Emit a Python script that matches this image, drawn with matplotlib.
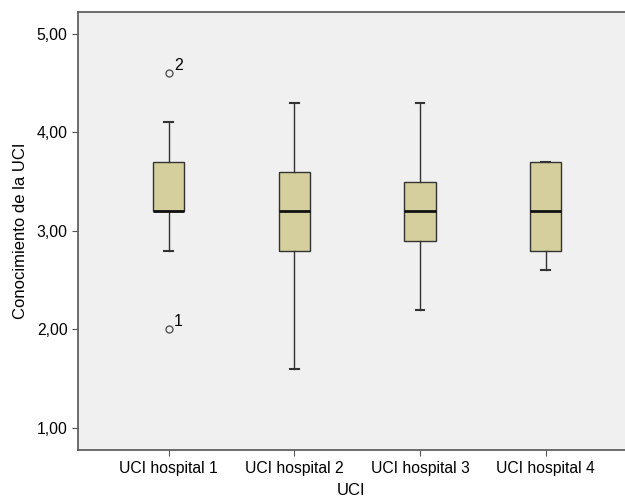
import matplotlib
matplotlib.use("Agg")
import matplotlib.pyplot as plt
from matplotlib.ticker import FuncFormatter

plt.rcParams['font.family'] = ['Liberation Sans', 'DejaVu Sans']

categories = ["UCI hospital 1", "UCI hospital 2", "UCI hospital 3", "UCI hospital 4"]
whislo = [2.8, 1.6, 2.2, 2.6]
q1 = [3.2, 2.8, 2.9, 2.8]
med = [3.2, 3.2, 3.2, 3.2]
q3 = [3.7, 3.6, 3.5, 3.7]
whishi = [4.1, 4.3, 4.3, 3.7]
outliers = [[4.6, 2.0], [], [], []]
outlier_labels = [["2", "1"], [], [], []]

stats = []
for i, c in enumerate(categories):
    stats.append(dict(label=c, whislo=whislo[i], q1=q1[i], med=med[i],
                      q3=q3[i], whishi=whishi[i], fliers=outliers[i]))

fig = plt.figure(figsize=(6.25, 5), dpi=100)
ax = fig.add_axes([0.1248, 0.1, 0.8752, 0.876])
ax.set_facecolor('#F0F0F0')
fig.patch.set_facecolor('white')

positions = [1, 2, 3, 4]
ax.bxp(stats, positions=positions, widths=0.25, patch_artist=True,
       capwidths=0.07,
       boxprops=dict(facecolor='#D4CF9C', edgecolor='#333333', linewidth=1.0),
       medianprops=dict(color='#111111', linewidth=2.0),
       whiskerprops=dict(color='#333333', linewidth=1.0),
       capprops=dict(color='#333333', linewidth=1.5),
       flierprops=dict(marker='o', markersize=5, markerfacecolor='none',
                       markeredgecolor='#555555', markeredgewidth=1.0))

for i, (vals, labs) in enumerate(zip(outliers, outlier_labels)):
    for v, l in zip(vals, labs):
        ax.annotate(l, (positions[i], v), xytext=(4, 0), textcoords='offset points',
                    fontsize=11.5, ha='left', va='bottom', color='black')

ax.set_xlim(0.28, 4.63)
ax.set_ylim(0.777, 5.22)
ax.set_yticks([1, 2, 3, 4, 5])
ax.yaxis.set_major_formatter(FuncFormatter(lambda v, p: f"{v:.2f}".replace('.', ',')))
ax.set_xticks(positions)
ax.set_xticklabels(categories)
ax.tick_params(axis='both', labelsize=11.3, direction='out', length=4, color='#555555')
ax.tick_params(axis='x', pad=4)
ax.spines['right'].set_visible(False)
for s in ['left', 'top', 'bottom']:
    ax.spines[s].set_color('#555555')
    ax.spines[s].set_linewidth(1.2)
ax.set_xlabel("UCI", fontsize=12, labelpad=5)
ax.set_ylabel("Conocimiento de la UCI", fontsize=12, labelpad=6)

fig.savefig("out.png", dpi=100)
